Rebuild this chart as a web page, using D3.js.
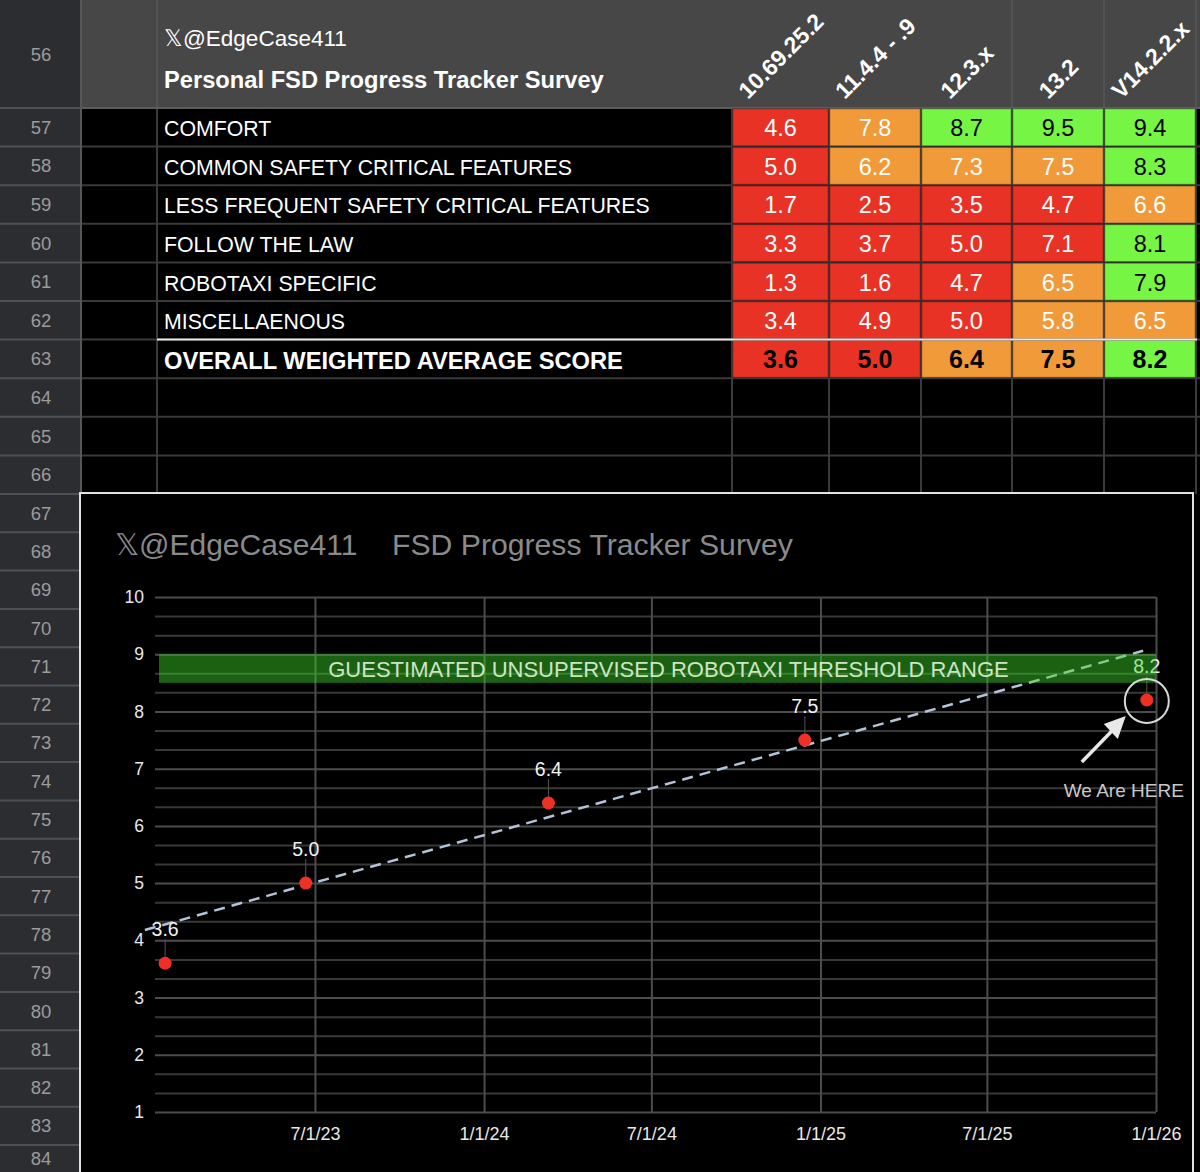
<!DOCTYPE html>
<html>
<head>
<meta charset="utf-8">
<script src="https://cdn.jsdelivr.net/npm/d3@7"></script>
<style>
  html, body { margin: 0; padding: 0; background: #000; }
  svg { display: block; font-family: "Liberation Sans", Arial, sans-serif; }
</style>
</head>
<body>
<svg id="chart" width="1200" height="1172"></svg>
<script>
// ---- data ----
var versions = ["10.69.25.2", "11.4.4 - .9", "12.3.x", "13.2", "V14.2.2.x"];
var categories = ["COMFORT", "COMMON SAFETY CRITICAL FEATURES", "LESS FREQUENT SAFETY CRITICAL FEATURES",
                  "FOLLOW THE LAW", "ROBOTAXI SPECIFIC", "MISCELLAENOUS"];
var scores = [
  [4.6, 7.8, 8.7, 9.5, 9.4],
  [5.0, 6.2, 7.3, 7.5, 8.3],
  [1.7, 2.5, 3.5, 4.7, 6.6],
  [3.3, 3.7, 5.0, 7.1, 8.1],
  [1.3, 1.6, 4.7, 6.5, 7.9],
  [3.4, 4.9, 5.0, 5.8, 6.5]
];
// r = red, o = orange, g = green (conditional format of each cell)
var ratings = [
  ["r", "o", "g", "g", "g"],
  ["r", "o", "o", "o", "g"],
  ["r", "r", "r", "r", "o"],
  ["r", "r", "r", "r", "g"],
  ["r", "r", "r", "o", "g"],
  ["r", "r", "r", "o", "o"]
];
var overallLabel = "OVERALL WEIGHTED AVERAGE SCORE";
var overall = [3.6, 5.0, 6.4, 7.5, 8.2];
var overallRatings = ["r", "r", "o", "o", "g"];

var surveyDates = ["2023-01-19", "2023-06-21", "2024-03-11", "2024-12-15", "2025-12-22"];
var xTickDates = ["2023-07-01", "2024-01-01", "2024-07-01", "2025-01-01", "2025-07-01", "2026-01-01"];
var yTickValues = [1, 2, 3, 4, 5, 6, 7, 8, 9, 10];
var trendEnds = [{ date: "2022-12-28", value: 4.18 }, { date: "2025-12-18", value: 9.06 }];
var thresholdBand = [8.5, 9.0];
var bandLabel = "GUESTIMATED UNSUPERVISED ROBOTAXI THRESHOLD RANGE";
var rowNumbers = d3.range(56, 85);

var parse = d3.timeParse("%Y-%m-%d");
var points = overall.map(function (v, i) { return { date: parse(surveyDates[i]), value: v }; });

// ---- sheet layout ----
var svg = d3.select("#chart");
var headerH = 108, rowH = 38.6, chartRowH = 38.3, chartTop = 494;
var rowNumW = 81, colBx = 157, labelX = 164;
var colEdges = [732, 829, 921, 1012, 1104, 1196];
var fills = { r: "#e83226", o: "#f09a3a", g: "#77f545" };

function rowTop(n) {
  if (n === 56) return 0;
  if (n <= 67) return headerH + (n - 57) * rowH;
  return chartTop + (n - 67) * chartRowH;
}

svg.append("rect").attr("width", 1200).attr("height", 1172).attr("fill", "#000");

// header row 56
svg.append("rect").attr("x", rowNumW).attr("y", 0).attr("width", 1200 - rowNumW).attr("height", headerH)
  .attr("fill", "#474747");
svg.selectAll("line.hdrv").data([colBx, 1012, 1104, 1196]).enter().append("line")
  .attr("x1", function (d) { return d; }).attr("x2", function (d) { return d; })
  .attr("y1", 0).attr("y2", headerH).attr("stroke", "#575757").attr("stroke-width", 1.5);

// black grid of rows 57-66
var gridRows = d3.range(58, 67);
svg.selectAll("line.rowg").data(gridRows).enter().append("line")
  .attr("x1", rowNumW).attr("x2", 1200)
  .attr("y1", function (d) { return rowTop(d); }).attr("y2", function (d) { return rowTop(d); })
  .attr("stroke", "#3a3a3a").attr("stroke-width", 2);
svg.selectAll("line.colg").data([colBx].concat(colEdges)).enter().append("line")
  .attr("x1", function (d) { return d; }).attr("x2", function (d) { return d; })
  .attr("y1", headerH).attr("y2", chartTop)
  .attr("stroke", "#3a3a3a").attr("stroke-width", 2);
svg.append("line").attr("x1", rowNumW).attr("x2", 1200).attr("y1", headerH).attr("y2", headerH)
  .attr("stroke", "#5c5c5c").attr("stroke-width", 2);

// row number column
svg.append("rect").attr("x", 0).attr("y", 0).attr("width", rowNumW).attr("height", 1172).attr("fill", "#2c2d30");
svg.selectAll("line.rn").data(rowNumbers.slice(1).concat([85])).enter().append("line")
  .attr("x1", 0).attr("x2", rowNumW)
  .attr("y1", function (d) { return rowTop(d); }).attr("y2", function (d) { return rowTop(d); })
  .attr("stroke", "#4f5054").attr("stroke-width", 2);
svg.append("line").attr("x1", rowNumW).attr("x2", rowNumW).attr("y1", 0).attr("y2", 1172)
  .attr("stroke", "#55565a").attr("stroke-width", 2);
svg.selectAll("text.rn").data(rowNumbers).enter().append("text")
  .attr("x", 41)
  .attr("y", function (d) { return Math.min((rowTop(d) + rowTop(d + 1)) / 2 + 6.5, 1165); })
  .attr("text-anchor", "middle").attr("fill", "#9c9c9c").attr("font-size", 18.5)
  .text(function (d) { return d; });

// header titles
svg.append("text").attr("x", labelX).attr("y", 46).attr("fill", "#fff").attr("font-size", 22.5)
  .text("\u{1D54F}@EdgeCase411");
svg.append("text").attr("x", labelX).attr("y", 88).attr("fill", "#fff").attr("font-size", 23.7)
  .attr("font-weight", "bold").text("Personal FSD Progress Tracker Survey");

// rotated version headers
var angle = 45, capH = 17, sn = Math.sin(angle * Math.PI / 180);
svg.selectAll("text.ver").data(versions).enter().append("text")
  .attr("fill", "#fff").attr("font-size", 23).attr("font-weight", "bold")
  .text(function (d) { return d; })
  .each(function (d, i) {
    var L = this.getComputedTextLength();
    var cx = (colEdges[i] + colEdges[i + 1]) / 2;
    var px = cx - sn * (L - capH) / 2;
    d3.select(this).attr("transform", "translate(" + px + ",100) rotate(" + (-angle) + ")");
  });

// category rows
var tableRows = categories.map(function (c, i) {
  return { label: c, values: scores[i], ratings: ratings[i], bold: false };
});
tableRows.push({ label: overallLabel, values: overall, ratings: overallRatings, bold: true });

var rowG = svg.selectAll("g.trow").data(tableRows).enter().append("g")
  .attr("transform", function (d, i) { return "translate(0," + rowTop(57 + i) + ")"; });

rowG.append("text").attr("x", labelX).attr("y", function (d) { return rowH / 2 + (d.bold ? 10 : 9); })
  .attr("fill", "#fff").attr("font-size", function (d) { return d.bold ? 23.7 : 21.3; })
  .attr("font-weight", function (d) { return d.bold ? "bold" : "normal"; })
  .text(function (d) { return d.label; });

var cells = rowG.selectAll("g.cell").data(function (d) {
  return d.values.map(function (v, j) { return { v: v, r: d.ratings[j], j: j, bold: d.bold }; });
}).enter().append("g");

cells.append("rect")
  .attr("x", function (d) { return colEdges[d.j] + 0.75; })
  .attr("y", 0.75)
  .attr("width", function (d) { return colEdges[d.j + 1] - colEdges[d.j] - 1.5; })
  .attr("height", rowH - 1.5)
  .attr("fill", function (d) { return fills[d.r]; })
  .attr("stroke", "rgba(0,0,0,0.22)").attr("stroke-width", 1.5);

cells.append("text")
  .attr("x", function (d) { return (colEdges[d.j] + colEdges[d.j + 1]) / 2; })
  .attr("y", function (d) { return rowH / 2 + (d.bold ? 9.5 : 9); })
  .attr("text-anchor", "middle").attr("font-size", function (d) { return d.bold ? 25 : 23.5; })
  .attr("font-weight", function (d) { return d.bold ? "bold" : "normal"; })
  .attr("fill", function (d) { return (d.bold || d.r === "g") ? "#000" : "#fff"; })
  .text(function (d) { return d.v.toFixed(1); });

svg.append("line").attr("x1", colBx).attr("x2", 1197).attr("y1", rowTop(63)).attr("y2", rowTop(63))
  .attr("stroke", "#e8e8e8").attr("stroke-width", 2);

// ---- embedded chart ----
svg.append("rect").attr("x", 80).attr("y", chartTop - 1).attr("width", 1113).attr("height", 720)
  .attr("fill", "#000").attr("stroke", "#e2e2e2").attr("stroke-width", 2);

svg.append("text").attr("x", 115).attr("y", 555).attr("fill", "#8a8a8a").attr("font-size", 30)
  .text("\u{1D54F}@EdgeCase411");
svg.append("text").attr("x", 392).attr("y", 555).attr("fill", "#8a8a8a").attr("font-size", 30.2)
  .text("FSD Progress Tracker Survey");

var x = d3.scaleTime().domain([parse("2023-01-08"), parse("2026-01-01")]).range([155, 1156]);
var y = d3.scaleLinear().domain([1, 10]).range([1112, 597]);
var plotW = x.range()[1] - x.range()[0];

var minorTicks = d3.range(0, 28).map(function (k) { return 1 + k / 3; })
  .filter(function (v, k) { return k % 3 !== 0; });

svg.append("g").attr("transform", "translate(" + x.range()[0] + ",0)")
  .call(d3.axisLeft(y).tickValues(minorTicks).tickSize(-plotW).tickFormat(""))
  .call(function (g) {
    g.select(".domain").remove();
    g.selectAll("line").attr("stroke", "#383838").attr("stroke-width", 2);
  });
svg.append("g").attr("transform", "translate(" + x.range()[0] + ",0)")
  .call(d3.axisLeft(y).tickValues(yTickValues).tickSize(-plotW).tickFormat(""))
  .call(function (g) {
    g.select(".domain").remove();
    g.selectAll("line").attr("stroke", "#4c4c4c").attr("stroke-width", 2);
  });
svg.append("g").attr("transform", "translate(0," + y(1) + ")")
  .call(d3.axisBottom(x).tickValues(xTickDates.map(parse)).tickSize(-(y(1) - y(10))).tickFormat(""))
  .call(function (g) {
    g.select(".domain").remove();
    g.selectAll("line").attr("stroke", "#4c4c4c").attr("stroke-width", 2);
  });

// axis labels
svg.append("g").attr("transform", "translate(" + (x.range()[0] - 11) + ",0)")
  .call(d3.axisLeft(y).tickValues(yTickValues).tickSize(0).tickPadding(0).tickFormat(d3.format("d")))
  .call(function (g) {
    g.select(".domain").remove();
    g.selectAll("text").attr("fill", "#e8e8e8").attr("font-size", 17.5)
      .attr("font-family", "'Liberation Sans', Arial, sans-serif");
  });
svg.append("g").attr("transform", "translate(0," + (y(1) + 15) + ")")
  .call(d3.axisBottom(x).tickValues(xTickDates.map(parse)).tickSize(0).tickPadding(0)
    .tickFormat(d3.timeFormat("%-m/%-d/%y")))
  .call(function (g) {
    g.select(".domain").remove();
    g.selectAll("text").attr("fill", "#e8e8e8").attr("font-size", 18)
      .attr("font-family", "'Liberation Sans', Arial, sans-serif");
  });

// trend line
var trendLine = d3.line().x(function (d) { return x(parse(d.date)); }).y(function (d) { return y(d.value); });
svg.append("path").datum(trendEnds).attr("d", trendLine)
  .attr("fill", "none").attr("stroke", "#b4c3d8").attr("stroke-width", 2.5).attr("stroke-dasharray", "11,7");

// leader lines, points, labels
svg.selectAll("line.lead").data(points).enter().append("line")
  .attr("x1", function (d) { return x(d.date); }).attr("x2", function (d) { return x(d.date); })
  .attr("y1", function (d) { return y(d.value) - 24; }).attr("y2", function (d) { return y(d.value) - 6; })
  .attr("stroke", "#555").attr("stroke-width", 1);
svg.selectAll("circle.pt").data(points).enter().append("circle")
  .attr("cx", function (d) { return x(d.date); }).attr("cy", function (d) { return y(d.value); })
  .attr("r", 6.5).attr("fill", "#ee3124");
svg.selectAll("text.lbl").data(points).enter().append("text")
  .attr("x", function (d) { return x(d.date); }).attr("y", function (d) { return y(d.value) - 27; })
  .attr("text-anchor", "middle").attr("fill", "#f2f2f2").attr("font-size", 19.5)
  .text(function (d) { return d.value.toFixed(1); });

// threshold band (semi-transparent, over the marks)
svg.append("rect")
  .attr("x", x.range()[0] + 4).attr("width", plotW - 4)
  .attr("y", y(thresholdBand[1])).attr("height", y(thresholdBand[0]) - y(thresholdBand[1]))
  .attr("fill", "rgb(60,215,40)").attr("opacity", 0.45);
svg.append("text")
  .attr("x", (x.range()[0] + x.range()[1]) / 2 + 13)
  .attr("y", y((thresholdBand[0] + thresholdBand[1]) / 2) + 8)
  .attr("text-anchor", "middle").attr("fill", "#cfe4c6").attr("font-size", 22)
  .text(bandLabel);

// "We Are HERE" annotation around latest point
var last = points[points.length - 1];
var lx = x(last.date), ly = y(last.value);
svg.append("circle").attr("cx", lx).attr("cy", ly + 1).attr("r", 22)
  .attr("fill", "none").attr("stroke", "#d8d8d8").attr("stroke-width", 2);
svg.append("line").attr("x1", lx - 65).attr("y1", ly + 62).attr("x2", lx - 33).attr("y2", ly + 29)
  .attr("stroke", "#e8e8e8").attr("stroke-width", 3.5);
svg.append("path")
  .attr("d", "M" + (lx - 21) + "," + (ly + 16) + " L" + (lx - 43) + "," + (ly + 24) + " L" + (lx - 29) + "," + (ly + 39) + " Z")
  .attr("fill", "#e8e8e8");
svg.append("text").attr("x", lx - 23).attr("y", ly + 97).attr("text-anchor", "middle")
  .attr("fill", "#c8c8c8").attr("font-size", 19).text("We Are HERE");
</script>
</body>
</html>
